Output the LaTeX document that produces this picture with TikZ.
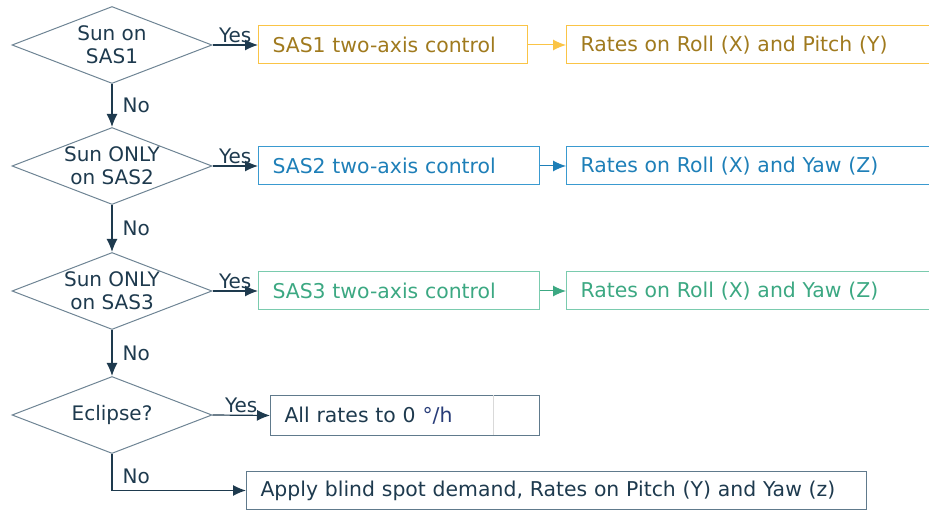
\documentclass[tikz,border=0pt]{standalone}
\usepackage{fontspec}
\setmainfont{DejaVu Sans}
\usetikzlibrary{shapes,arrows,arrows.meta}
\definecolor{navy}{RGB}{30,58,78}
\definecolor{diagedge}{RGB}{110,132,148}
\definecolor{boxedge}{RGB}{96,122,140}
\definecolor{goldline}{RGB}{250,196,70}
\definecolor{goldtext}{RGB}{160,122,30}
\definecolor{blueline}{RGB}{58,154,208}
\definecolor{bluetext}{RGB}{30,127,184}
\definecolor{greenline}{RGB}{122,203,174}
\definecolor{greentext}{RGB}{60,168,130}
\definecolor{unitblue}{RGB}{40,60,120}
\tikzstyle{decision} = [diamond, draw=diagedge, line width=1pt, text=navy,
    aspect=2.6, minimum width=200pt, minimum height=77pt, inner sep=-2pt,
    align=center, font=\fontsize{20}{23}\selectfont]
\tikzstyle{block} = [rectangle, draw, line width=1pt, minimum height=38pt,
    inner xsep=14pt, align=left, anchor=west, font=\fontsize{20.4}{23}\selectfont]
\tikzstyle{arrow} = [draw=navy, line width=1.2pt, -{Latex[length=13pt, width=11pt]}]
\tikzstyle{answer} = [text=navy, font=\fontsize{20}{22}\selectfont, inner sep=2pt]

\begin{document}
\begin{tikzpicture}[x=1pt, y=-1pt]
    \clip (0,0) rectangle (929,510);
    % decisions
    \node[decision] (sas1q) at (112,45) {Sun on\\SAS1};
    \node[decision] (sas2q) at (112,166) {Sun ONLY\\on SAS2};
    \node[decision] (sas3q) at (112,291) {Sun ONLY\\on SAS3};
    \node[decision] (eclq) at (112,415) {Eclipse?};
    % actions
    \node[block, draw=goldline, text=goldtext, text width=241pt] (sas1ctl) at (258,45) {SAS1 two-axis control};
    \node[block, draw=goldline, text=goldtext, text width=345pt] (sas1rate) at (566,45) {Rates on Roll (X) and Pitch (Y)};
    \node[block, draw=blueline, text=bluetext, text width=253pt] (sas2ctl) at (258,166) {SAS2 two-axis control};
    \node[block, draw=blueline, text=bluetext, text width=345pt] (sas2rate) at (566,166) {Rates on Roll (X) and Yaw (Z)};
    \node[block, draw=greenline, text=greentext, text width=253pt] (sas3ctl) at (258,291) {SAS3 two-axis control};
    \node[block, draw=greenline, text=greentext, text width=345pt] (sas3rate) at (566,291) {Rates on Roll (X) and Yaw (Z)};
    \node[block, draw=boxedge, text=navy, text width=241pt, minimum height=39pt] (zerorate) at (270,415.5) {All rates to 0 {\color{unitblue}°/h}};
    \node[block, draw=boxedge, text=navy, text width=592pt] (blindspot) at (246,490.5) {Apply blind spot demand, Rates on Pitch (Y) and Yaw (z)};
    \draw[black!15, line width=0.8pt] (zerorate.north west) ++(223,0) -- ++(0,39);
    % yes branches
    \path[arrow] (sas1q.east) -- node[answer, above] {Yes} (sas1ctl.west);
    \path[arrow] (sas2q.east) -- node[answer, above] {Yes} (sas2ctl.west);
    \path[arrow] (sas3q.east) -- node[answer, above] {Yes} (sas3ctl.west);
    \path[arrow] (eclq.east) -- node[answer, above] {Yes} (zerorate.west);
    \path[arrow, draw=goldline, line width=1pt] (sas1ctl.east) -- (sas1rate.west);
    \path[arrow, draw=bluetext, line width=1pt] (sas2ctl.east) -- (sas2rate.west);
    \path[arrow, draw=greentext, line width=1pt] (sas3ctl.east) -- (sas3rate.west);
    % no branches
    \path[arrow] (sas1q.south) -- node[answer, right, xshift=8pt] {No} (sas2q.north);
    \path[arrow] (sas2q.south) -- node[answer, right, xshift=8pt] {No} (sas3q.north);
    \path[arrow] (sas3q.south) -- node[answer, right, xshift=8pt] {No} (eclq.north);
    \path[arrow] (eclq.south) |- node[answer, right, pos=0.3, xshift=8pt] {No} (blindspot.west);
\end{tikzpicture}
\end{document}
